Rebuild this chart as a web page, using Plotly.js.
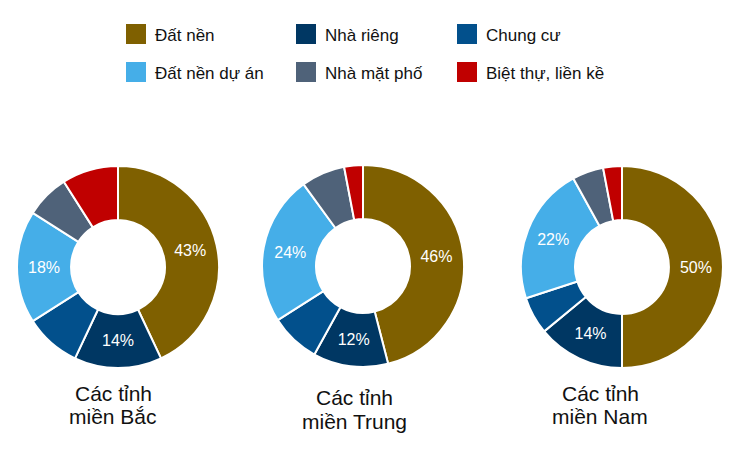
<!DOCTYPE html>
<html>
<head>
<meta charset="utf-8">
<script src="https://cdn.plot.ly/plotly-3.0.1.min.js"></script>
<style>
  html, body { margin: 0; padding: 0; background: #fff; }
  #chart { width: 745px; height: 464px; }
</style>
</head>
<body>
<div id="chart"></div>
<script>
(function () {
  "use strict";

  // Cơ cấu loại hình BĐS quan tâm theo vùng (%)
  const categories = ["Đất nền", "Nhà riêng", "Chung cư", "Đất nền dự án", "Nhà mặt phố", "Biệt thự, liền kề"];
  const colors = ["#7F6000", "#003763", "#02508C", "#45AEE8", "#4F6279", "#C00000"];

  const regions = ["Các tỉnh|miền Bắc", "Các tỉnh|miền Trung", "Các tỉnh|miền Nam"];
  const mienBac   = [43, 14, 9, 18, 7, 9];
  const mienTrung = [46, 12, 8, 24, 7, 3];
  const mienNam   = [50, 14, 6, 22, 5, 3];
  const seriesVals = [mienBac, mienTrung, mienNam];

  /* ---- layout helpers (pixel -> paper, figure is 745x464, no margins) ---- */
  const W = 745, H = 464;
  const px = x => x / W;
  const py = y => 1 - y / H;

  // donut centres & outer radius in pixels
  const centres = [[118, 267], [363, 266], [622, 267]];
  const R = 101;
  const titleX = [113, 354, 600];
  const titleY = [[393, 416], [397, 421], [393, 416]];

  const traces = seriesVals.map((vals, i) => ({
    type: "pie",
    hole: 0.465,
    labels: categories,
    values: vals,
    sort: false,
    direction: "clockwise",
    rotation: 0,
    marker: { colors: colors, line: { color: "#ffffff", width: 2 } },
    text: vals.map(v => v >= 12 ? v + "%" : ""),
    textinfo: "text",
    textposition: "inside",
    insidetextorientation: "horizontal",
    textfont: { color: "#ffffff", size: 16, family: "Liberation Sans, Arial, sans-serif" },
    hoverinfo: "label+percent",
    showlegend: false,
    domain: {
      x: [px(centres[i][0] - R), px(centres[i][0] + R)],
      y: [py(centres[i][1] + R), py(centres[i][1] - R)],
    },
  }));

  /* ---- legend drawn as shapes + annotations (3 columns x 2 rows) ---- */
  const legCol = [126, 296, 457];
  const legRow = [34, 72];
  const shapes = [];
  const annotations = [];
  categories.forEach((c, k) => {
    const col = k % 3, row = Math.floor(k / 3);
    const x0 = legCol[col], yc = legRow[row];
    shapes.push({
      type: "rect", xref: "paper", yref: "paper",
      x0: px(x0), x1: px(x0 + 20), y0: py(yc + 10), y1: py(yc - 10),
      fillcolor: colors[k], line: { width: 0 },
    });
    annotations.push({
      text: c, xref: "paper", yref: "paper",
      x: px(x0 + 27), y: py(yc + 1), xanchor: "left", yanchor: "middle",
      showarrow: false, font: { size: 17, color: "#111111" },
    });
  });

  regions.forEach((r, i) => {
    r.split("|").forEach((line, j) => {
      annotations.push({
        text: line, xref: "paper", yref: "paper",
        x: px(titleX[i]), y: py(titleY[i][j]), xanchor: "center", yanchor: "middle",
        showarrow: false, font: { size: 21, color: "#111111" },
      });
    });
  });

  Plotly.newPlot("chart", traces, {
    width: W, height: H,
    margin: { l: 0, r: 0, t: 0, b: 0 },
    paper_bgcolor: "#ffffff",
    font: { family: "Liberation Sans, Arial, sans-serif", color: "#111111" },
    shapes: shapes,
    annotations: annotations,
  }, { displayModeBar: false, staticPlot: true });
})();
</script>
</body>
</html>
